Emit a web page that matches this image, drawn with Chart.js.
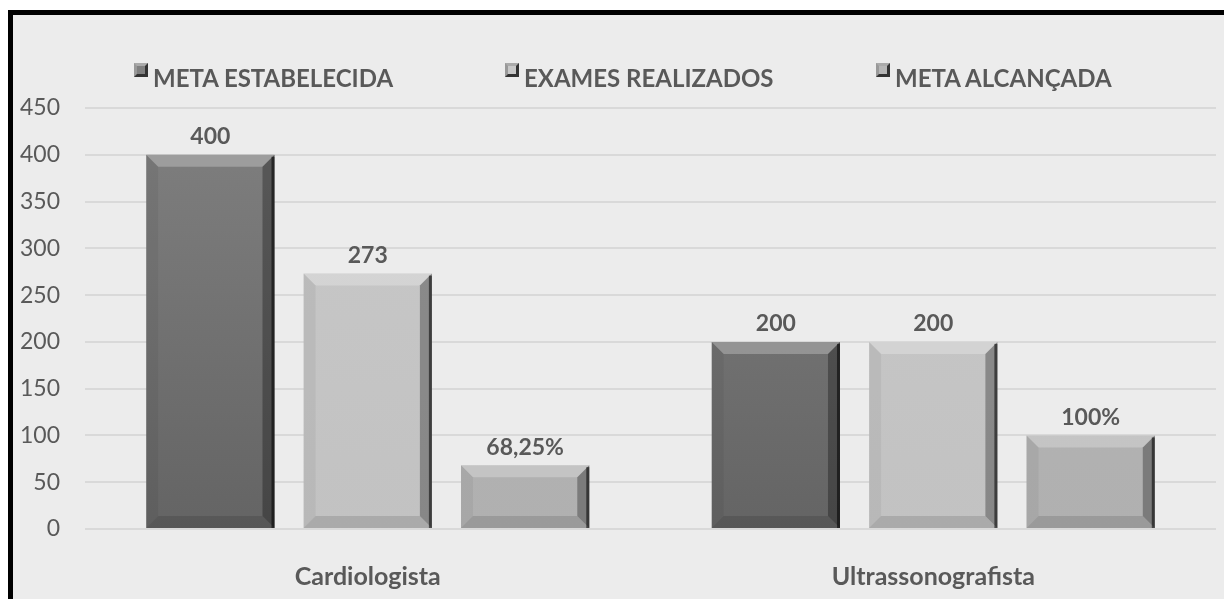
<!DOCTYPE html>
<html lang="pt">
<head>
    <meta charset="UTF-8" />
    <title>Meta x Exames</title>
    <style>
        body {
            margin: 0;
            background: #fff;
            font-family: Lato, sans-serif;
        }
        #frame {
            position: absolute;
            left: 8px;
            top: 10px;
            width: 1230px;
            height: 600px;
            border-top: 5px solid #000;
            border-left: 5px solid #000;
            background: #ececec;
            overflow: hidden;
        }
        #chart-container {
            position: absolute;
            left: 0;
            top: 0;
            width: 1211px;
            height: 584px;
        }
        .legend-item {
            position: absolute;
            top: 48px;
            font-weight: bold;
            font-size: 24px;
            color: #595959;
            white-space: nowrap;
        }
        .legend-item span.box {
            display: inline-block;
            width: 14px;
            height: 14px;
            margin-right: 5px;
            vertical-align: 10px;
            box-sizing: border-box;
            border-style: solid;
            border-width: 3px;
            border-color: #aaa #333 #333 #999;
        }
    </style>
    <script src="https://cdn.jsdelivr.net/npm/chart.js"></script>
</head>
<body>
<div id="frame">
    <div id="chart-container">
        <canvas id="metaChart"></canvas>
    </div>
    <div id="legend"></div>
</div>

<script>
  const categories = ["Cardiologista", "Ultrassonografista"];
  const seriesNames = ["META ESTABELECIDA", "EXAMES REALIZADOS", "META ALCANÇADA"];
  const metaEstabelecida = [400, 200];
  const examesRealizados = [273, 200];
  const metaAlcancada = [68.25, 100];
  const valueLabels = [
    ["400", "200"],
    ["273", "200"],
    ["68,25%", "100%"]
  ];
  const yTicks = [0, 50, 100, 150, 200, 250, 300, 350, 400, 450];

  const faceColors = [
    ["#808080", "#646464"],
    ["#c8c8c8", "#c2c2c2"],
    ["#b6b6b6", "#b0b0b0"]
  ];
  const legendLeft = [121, 492, 863];

  // legend (html)
  const legend = document.getElementById("legend");
  seriesNames.forEach((name, i) => {
    const item = document.createElement("div");
    item.className = "legend-item";
    item.style.left = legendLeft[i] + "px";
    const box = document.createElement("span");
    box.className = "box";
    box.style.background = faceColors[i][0];
    item.appendChild(box);
    item.appendChild(document.createTextNode(name));
    legend.appendChild(item);
  });

  function faceGradient(context, i) {
    const chart = context.chart;
    const area = chart.chartArea;
    if (!area) return faceColors[i][0];
    const g = chart.ctx.createLinearGradient(0, area.top, 0, area.bottom);
    g.addColorStop(0, faceColors[i][0]);
    g.addColorStop(1, faceColors[i][1]);
    return g;
  }

  // bevel look of the original bars
  const bevelPlugin = {
    id: "bevel",
    afterDatasetsDraw(chart) {
      const ctx = chart.ctx;
      const b = 12;
      chart.data.datasets.forEach((ds, di) => {
        chart.getDatasetMeta(di).data.forEach((bar) => {
          const w = bar.width;
          const l = bar.x - w / 2, r = bar.x + w / 2;
          const t = bar.y, btm = bar.base;
          const poly = (pts, fill) => {
            ctx.beginPath();
            ctx.moveTo(pts[0][0], pts[0][1]);
            pts.slice(1).forEach((p) => ctx.lineTo(p[0], p[1]));
            ctx.closePath();
            ctx.fillStyle = fill;
            ctx.fill();
          };
          ctx.save();
          poly([[l, t], [r, t], [r - b, t + b], [l + b, t + b]], "rgba(255,255,255,0.25)");
          poly([[l, t], [l + b, t + b], [l + b, btm - b], [l, btm]], "rgba(0,0,0,0.05)");
          poly([[r, t], [r, btm], [r - b, btm - b], [r - b, t + b]], "rgba(0,0,0,0.3)");
          poly([[l, btm], [l + b, btm - b], [r - b, btm - b], [r, btm]], "rgba(0,0,0,0.12)");
          ctx.fillStyle = "rgba(0,0,0,0.55)";
          ctx.fillRect(r - 3, t + 2, 3, btm - t - 2);
          ctx.restore();
        });
      });
    }
  };

  const valueLabelPlugin = {
    id: "valueLabels",
    afterDatasetsDraw(chart) {
      const ctx = chart.ctx;
      ctx.save();
      ctx.font = "bold 23px Lato";
      ctx.fillStyle = "#595959";
      ctx.textAlign = "center";
      ctx.textBaseline = "middle";
      chart.data.datasets.forEach((ds, di) => {
        chart.getDatasetMeta(di).data.forEach((bar, idx) => {
          ctx.fillText(valueLabels[di][idx], bar.x, bar.y - 18);
        });
      });
      ctx.restore();
    }
  };

  const seriesData = [metaEstabelecida, examesRealizados, metaAlcancada];

  const ctx = document.getElementById("metaChart").getContext("2d");
  new Chart(ctx, {
    type: "bar",
    data: {
      labels: categories,
      datasets: seriesData.map((values, i) => ({
        label: seriesNames[i],
        data: values,
        backgroundColor: (c) => faceGradient(c, i),
        borderWidth: 0,
        categoryPercentage: 0.835,
        barPercentage: 0.815
      }))
    },
    options: {
      responsive: true,
      maintainAspectRatio: false,
      animation: false,
      layout: {
        padding: { top: 93, right: 8, left: 0, bottom: 0 }
      },
      scales: {
        y: {
          min: 0,
          max: 450,
          afterBuildTicks: (scale) => {
            scale.ticks = yTicks.map((v) => ({ value: v }));
          },
          afterFit: (scale) => {
            scale.width = 72;
          },
          border: { display: false },
          grid: {
            color: "#d9d9d9",
            lineWidth: 2,
            drawTicks: false
          },
          ticks: {
            padding: 25,
            color: "#595959",
            font: { family: "Lato", size: 23 }
          }
        },
        x: {
          afterFit: (scale) => {
            scale.height = 70;
          },
          border: { display: false },
          grid: { display: false, drawTicks: false },
          ticks: {
            padding: 33,
            color: "#595959",
            font: { family: "Lato", size: 25, weight: "bold" }
          }
        }
      },
      plugins: {
        legend: { display: false },
        tooltip: { enabled: false }
      }
    },
    plugins: [bevelPlugin, valueLabelPlugin]
  });
</script>
</body>
</html>
